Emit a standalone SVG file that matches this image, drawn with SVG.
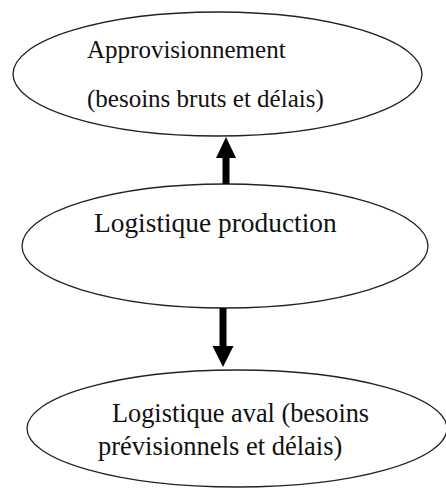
<svg xmlns="http://www.w3.org/2000/svg" width="446" height="490" viewBox="0 0 446 490">
  <defs>
    <style>
      .node { fill: #ffffff; stroke: #222222; stroke-width: 1.3; }
      .label { font-family: 'Liberation Serif', 'Times New Roman', serif; fill: #111111; }
      .shaft { stroke: #000000; stroke-width: 7; fill: none; }
      .head { fill: #000000; }
    </style>
  </defs>
  <rect width="446" height="490" fill="#ffffff"/>

  <g id="approvisionnement">
    <ellipse class="node" cx="217.5" cy="74" rx="204.5" ry="62"/>
    <text class="label" x="87" y="58" font-size="25">Approvisionnement</text>
    <text class="label" x="87" y="107" font-size="25">(besoins bruts et délais)</text>
  </g>

  <g id="logistique-production">
    <ellipse class="node" cx="225" cy="246" rx="203" ry="62"/>
    <text class="label" x="94" y="232" font-size="27.4">Logistique production</text>
  </g>

  <g id="logistique-aval">
    <ellipse class="node" cx="237" cy="428.5" rx="210" ry="58.5"/>
    <text class="label" x="112" y="422" font-size="26.3">Logistique aval (besoins</text>
    <text class="label" x="98" y="455" font-size="26.5">prévisionnels et délais)</text>
  </g>

  <g id="connectors">
    <!-- production -> approvisionnement (upward) -->
    <line class="shaft" x1="226" y1="184" x2="226" y2="155"/>
    <polygon class="head" points="226,137 216,158 236,158"/>
    <!-- production -> aval (downward) -->
    <line class="shaft" x1="223" y1="308" x2="223" y2="349"/>
    <polygon class="head" points="223,367 212.5,346 233.5,346"/>
  </g>
</svg>
